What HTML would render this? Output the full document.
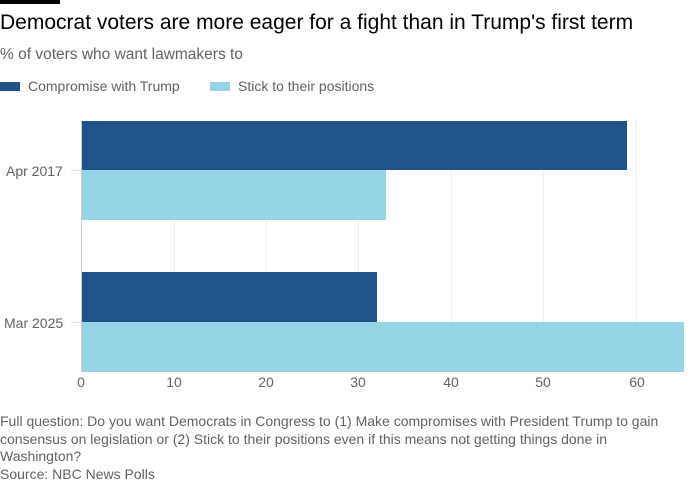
<!DOCTYPE html>
<html><head><meta charset="utf-8"><style>
body{margin:0;background:#fff;width:700px;height:500px;position:relative;overflow:hidden;font-family:"Liberation Sans",sans-serif;color:#33302e}
.a{position:absolute;white-space:nowrap}
.g{position:absolute;top:121px;height:251px;width:1px;background:#f0eeec}
.t{position:absolute;top:374px;font-size:14px;color:#66605c;transform:translateX(-50%)}
</style></head><body>
<div class="a" style="left:0;top:0;width:60px;height:4px;background:#000"></div>
<div class="a" style="left:0;top:11px;font-size:21px;color:#000">Democrat voters are more eager for a fight than in Trump's first term</div>
<div class="a" style="left:0;top:46px;font-size:15.5px;color:#66605c">% of voters who want lawmakers to</div>
<div class="a" style="left:0;top:82px;width:20px;height:9px;background:#1f5289"></div>
<div class="a" style="left:28px;top:78px;font-size:14px;color:#66605c">Compromise with Trump</div>
<div class="a" style="left:210px;top:82px;width:20px;height:9px;background:#96d3e6"></div>
<div class="a" style="left:238px;top:78px;font-size:14px;color:#66605c">Stick to their positions</div>
<div class="g" style="left:174px"></div><div class="g" style="left:266px"></div><div class="g" style="left:358px"></div><div class="g" style="left:451px"></div><div class="g" style="left:543px"></div><div class="g" style="left:636px"></div>
<div class="a" style="left:81px;top:121px;width:546px;height:49px;background:#1f5289"></div>
<div class="a" style="left:81px;top:170px;width:305px;height:50px;background:#96d3e6"></div>
<div class="a" style="left:81px;top:272px;width:296px;height:50px;background:#1f5289"></div>
<div class="a" style="left:81px;top:322px;width:603px;height:50px;background:#96d3e6"></div>
<div class="a" style="left:81px;top:121px;width:1px;height:251px;background:#ccc"></div>
<div class="a" style="left:71px;top:170px;width:10px;height:1px;background:#ddd"></div>
<div class="a" style="left:71px;top:322px;width:10px;height:1px;background:#ddd"></div>
<div class="a" style="left:6px;top:163px;font-size:14px;color:#66605c">Apr 2017</div>
<div class="a" style="left:4px;top:315px;font-size:14px;color:#66605c">Mar 2025</div>
<div class="t" style="left:81px">0</div><div class="t" style="left:174px">10</div><div class="t" style="left:266px">20</div><div class="t" style="left:358px">30</div><div class="t" style="left:451px">40</div><div class="t" style="left:543px">50</div><div class="t" style="left:637px">60</div>
<div class="a" style="left:0;top:413px;font-size:14px;line-height:17.5px;color:#66605c;white-space:normal;width:680px">Full question: Do you want Democrats in Congress to (1) Make compromises with President Trump to gain consensus on legislation or (2) Stick to their positions even if this means not getting things done in Washington?<br>Source: NBC News Polls</div>
</body></html>
